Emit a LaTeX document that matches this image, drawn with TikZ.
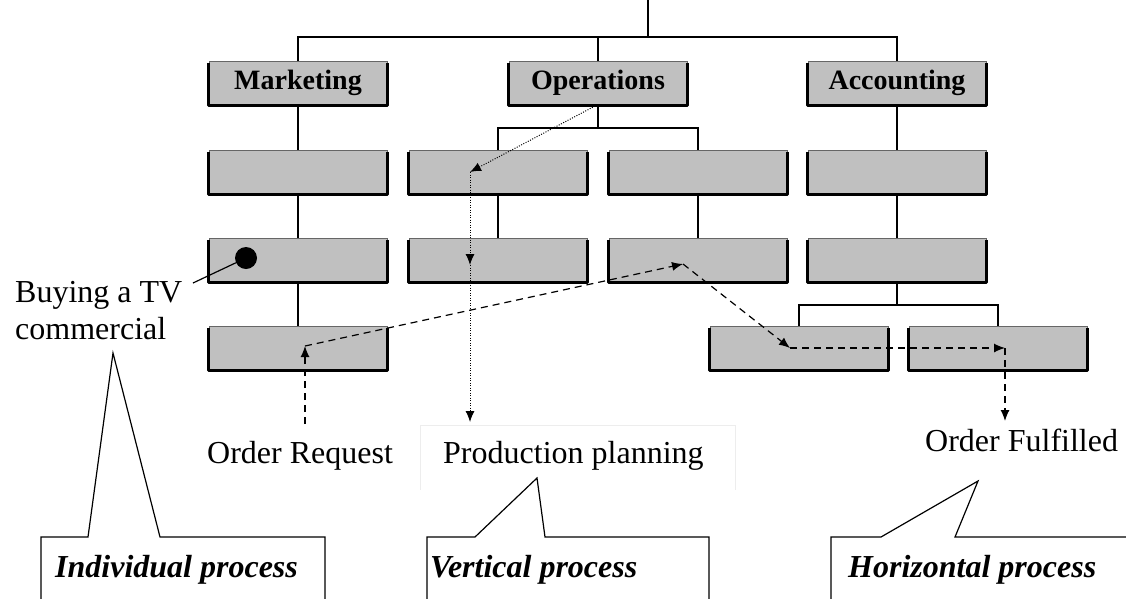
\documentclass[tikz,border=0pt]{standalone}
\usepackage{fontspec}
\setmainfont{Liberation Serif}
\usetikzlibrary{arrows.meta}
\definecolor{boxgray}{RGB}{192,192,192}
\tikzset{
  ubox/.style={draw=black!60, line width=0.7pt, fill=boxgray, minimum width=178pt, minimum height=44pt, inner sep=0pt,
    font=\bfseries\fontsize{28}{31}\selectfont},
  conn/.style={line width=1.3pt},
  arr/.style={-{Latex[length=11pt,width=9pt]}},
  dotl/.style={line width=1pt, dash pattern=on 1pt off 1.5pt, arr},
  dashl/.style={line width=1.2pt, dash pattern=on 7pt off 5pt, arr},
  txt/.style={anchor=base west, inner sep=0pt, font=\fontsize{32}{35}\selectfont},
  cal/.style={anchor=base west, inner sep=0pt, font=\bfseries\itshape\fontsize{32}{35}\selectfont},
  callout/.style={line width=1.2pt, fill=white, line join=miter}
}
\begin{document}
\begin{tikzpicture}[x=1pt,y=-1pt]
\useasboundingbox (0,0) rectangle (1126,598);
% faint text frame
\draw[black!7, line width=1pt] (420,490) -- (420,425) -- (735,425) -- (735,490);
% boxes
\node[ubox] (m0) at (298,83) {Marketing};
\node[ubox] (o0) at (598,83) {Operations};
\node[ubox] (a0) at (897,83) {Accounting};
\node[ubox] (m1) at (298,172) {};
\node[ubox] (o1) at (498,172) {};
\node[ubox] (o2) at (698,172) {};
\node[ubox] (a1) at (897,172) {};
\node[ubox] (m2) at (298,260) {};
\node[ubox] (o3) at (498,260) {};
\node[ubox] (o4) at (698,260) {};
\node[ubox] (a2) at (897,260) {};
\node[ubox] (m3) at (298,348) {};
\node[ubox] (a3) at (799,348) {};
\node[ubox] (a4) at (998,348) {};
\foreach \n in {m0,o0,a0,m1,o1,o2,a1,m2,o3,o4,a2,m3,a3,a4}
  \draw[line width=2.6pt, line join=round] ([yshift=-2pt]\n.north west) -- (\n.south west) -- (\n.south east) -- ([yshift=-2pt]\n.north east);
% tree connectors
\coordinate (t0) at (648,0);
\coordinate (t1) at (648,37);
\draw[conn] (t0) -- (t1);
\draw[conn] (m0.north) |- (t1) -| (a0.north);
\draw[conn] (o0.north) -- (o0.north |- t1);
\draw[conn] (m0.south) -- (m1.north);
\draw[conn] (m1.south) -- (m2.north);
\draw[conn] (m2.south) -- (m3.north);
\coordinate (ob) at (598,128);
\draw[conn] (o0.south) -- (ob);
\draw[conn] (o1.north) |- (ob) -| (o2.north);
\draw[conn] (o1.south) -- (o3.north);
\draw[conn] (o2.south) -- (o4.north);
\draw[conn] (a0.south) -- (a1.north);
\draw[conn] (a1.south) -- (a2.north);
\coordinate (ab) at (897,305);
\draw[conn] (a2.south) -- (ab);
\draw[conn] (a3.north) |- (ab) -| (a4.north);
% dot and label
\node[circle, fill=black, minimum size=22pt, inner sep=0pt] (dot) at (246,258) {};
\node[txt] (buy) at (15,302) {Buying a TV};
\node[txt] (com) at (15,339) {commercial};
\coordinate (bt) at (193,283);
\draw[line width=1.2pt] (bt) -- (dot);
% labels
\node[txt] (orq) at (207,463) {Order Request};
\node[txt] (pp) at (443,463) {Production planning};
\node[txt] (of) at (925,451) {Order Fulfilled};
% dotted vertical process
\coordinate (v0) at (595,106);
\coordinate (v1) at (470,172);
\coordinate (v2) at (470,265);
\coordinate (v3) at (470,422);
\draw[dotl] (v0) -- (v1);
\draw[dotl] (v1) -- (v2);
\draw[dotl] (v2) -- (v3);
% dashed horizontal process
\coordinate (h0) at (305,424);
\coordinate (h1) at (305,346);
\coordinate (h2) at (683,264);
\coordinate (h3) at (790,348);
\coordinate (h4) at (1005,348);
\coordinate (h5) at (1005,421);
\draw[dashl] (h0) -- (h1);
\draw[dashl] (h1) -- (h2);
\draw[dashl] (h2) -- (h3);
\draw[dashl] (h3) -- (h4);
\draw[dashl] (h4) -- (h5);
% callouts
\draw[callout] (41,600) -- (41,537) -- (88,537) -- (113,353) -- (160,537) -- (325,537) -- (325,600);
\draw[callout] (427,600) -- (427,537) -- (475,537) -- (537,478) -- (545,537) -- (709,537) -- (709,600);
\draw[callout] (831,600) -- (831,537) -- (881,537) -- (978,481) -- (955,537) -- (1130,537);
\node[cal] (c1) at (55,577) {Individual process};
\node[cal] (c2) at (430,577) {Vertical process};
\node[cal] (c3) at (848,577) {Horizontal process};
\end{tikzpicture}
\end{document}
